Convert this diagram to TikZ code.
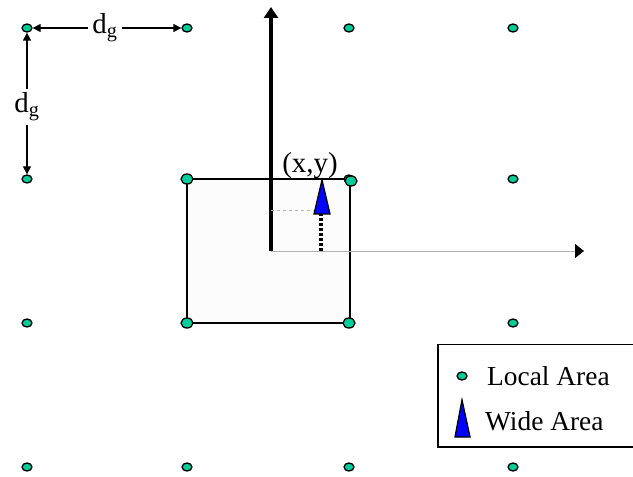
\documentclass[tikz,border=0pt]{standalone}
\usepackage{fontspec}
\setmainfont{Liberation Serif}
\usetikzlibrary{positioning,arrows.meta,shapes.geometric}
\definecolor{gridteal}{RGB}{0,204,153}

\begin{document}
\begin{tikzpicture}[
  x=1bp, y=-1bp,
  dot/.style={draw, ellipse, fill=gridteal, line width=1.3pt,
              minimum width=10bp, minimum height=8bp, inner sep=0pt},
  cornerdot/.style={dot, minimum width=12bp, minimum height=10bp},
  lbl/.style={font=\fontsize{27.5}{30}\selectfont, inner sep=0pt},
  dimlbl/.style={font=\fontsize{29}{32}\selectfont, inner sep=4bp},
  dim/.style={-{Triangle[length=8bp,width=8bp]}, line width=1.3pt},
  yaxis/.style={-{Triangle[length=11bp,width=14bp]}, line width=3.2pt},
  xaxis/.style={-{Triangle[length=9bp,width=14bp,color=black]}, line width=0.8pt, gray!60},
  wide/.style={draw, fill=blue, line width=1.3pt, line join=miter},
  track/.style={line width=3.3pt, dash pattern=on 3bp off 2bp},
]
  \useasboundingbox (0,0) rectangle (633,477);

  % local area
  \draw[fill=gray!2, line width=1.6pt] (187,179) rectangle (350,323);

  % axes
  \coordinate (o) at (271,251);
  \coordinate (ytop) at (271,7);
  \coordinate (xend) at (584,251);
  \draw[yaxis] (o) -- (ytop);
  \draw[xaxis] (o) -- (xend);

  % grid points
  \foreach \c/\x in {1/27,2/187,3/349,4/513}
    \foreach \r/\y in {1/28,2/179,3/323,4/467}
      \node[dot] (g\c\r) at (\x,\y) {};
  \node[cornerdot] at (g22) {};
  \node[cornerdot] at (351,181) {};
  \node[cornerdot] at (g23) {};
  \node[cornerdot] at (g33) {};

  % wide area position
  \coordinate (pos) at (322,180);
  \coordinate (foot) at (321,251);
  \draw[gray!60, dashed, line width=0.5pt] (271,210) -- (314,210);
  \draw[track] (foot) -- (321,214);
  \draw[wide] (pos) -- (330,214) -- (314,214) -- cycle;
  \node[dimlbl, anchor=base, inner sep=0pt] (xy) at (310,173) {(x,y)};

  % grid spacing
  \node[dimlbl] (dgh) at (105,28) {d\textsubscript{g}};
  \node[dimlbl] (dgv) at (27,107) {d\textsubscript{g}};
  \draw[dim] (dgh) -- (g11);
  \draw[dim] (dgh) -- (g21);
  \draw[dim] (dgv) -- (g11);
  \draw[dim] (dgv) -- (g12);

  % legend
  \draw[line width=1.3pt] (438,344.5) rectangle (660,447);
  \node[dot] (ldot) at (462,376) {};
  \node[lbl, anchor=base west] (ltext) at (487,385) {Local Area};
  \draw[wide] (462,400) -- (470,437) -- (455,437) -- cycle;
  \node[lbl, anchor=base west] (wtext) at (485,430) {Wide Area};
\end{tikzpicture}
\end{document}
